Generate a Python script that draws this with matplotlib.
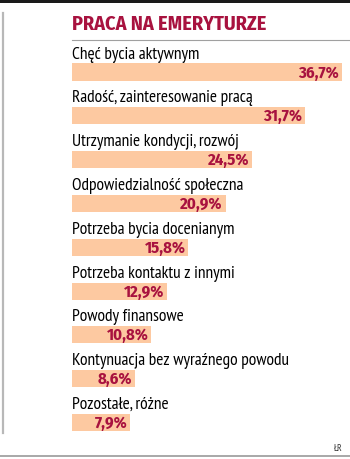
import matplotlib.pyplot as plt
from matplotlib.patches import Rectangle
from matplotlib.lines import Line2D

# odpowiedzi: dlaczego ludzie pracują na emeryturze (%)
labels = [
    "Chęć bycia aktywnym",
    "Radość, zainteresowanie pracą",
    "Utrzymanie kondycji, rozwój",
    "Odpowiedzialność społeczna",
    "Potrzeba bycia docenianym",
    "Potrzeba kontaktu z innymi",
    "Powody finansowe",
    "Kontynuacja bez wyraźnego powodu",
    "Pozostałe, różne",
]
values = [36.7, 31.7, 24.5, 20.9, 15.8, 12.9, 10.8, 8.6, 7.9]
value_text = ["36,7%", "31,7%", "24,5%", "20,9%", "15,8%", "12,9%", "10,8%", "8,6%", "7,9%"]

W, H = 350, 460
RED = "#a8123f"
PEACH = "#fdc9a1"
NARROW = ["PT Sans Narrow", "DejaVu Sans"]
BOLD = ["Fira Sans Condensed", "DejaVu Sans"]

fig = plt.figure(figsize=(W / 100, H / 100), dpi=100)

# ramka: czarny pasek u góry, szare linie z lewej i na dole
fig.add_artist(Rectangle((0, 1 - 4 / H), 1, 4 / H, transform=fig.transFigure,
                         color="#1a1a1a", lw=0))
fig.add_artist(Line2D([3 / W, 3 / W], [1 - 14 / H, 1 - 434 / H],
                      transform=fig.transFigure, color="#b8b8b8", lw=1.6))
fig.add_artist(Line2D([0, 1], [1 - 457 / H, 1 - 457 / H],
                      transform=fig.transFigure, color="#9a9a9a", lw=1.2))
fig.add_artist(Line2D([72 / W, 1], [1 - 41 / H, 1 - 41 / H],
                      transform=fig.transFigure, color="#a0a0a0", lw=0.8))

fig.text(72 / W, 1 - 30 / H, "PRACA NA EMERYTURZE", color=RED,
         fontsize=14.5, fontweight="bold", family=BOLD, va="baseline")
fig.text(342 / W, 1 - 451 / H, "ŁR", fontsize=7, family=NARROW,
         color="#333333", ha="right", va="baseline")

# oś z wykresem słupkowym
first, last = 73, 423.5
pitch = (last - first) / 8
top_px = first - 0.9 * pitch
bot_px = last + 0.6 * pitch
ax = fig.add_axes([72 / W, 1 - bot_px / H, (342 - 72) / W, (bot_px - top_px) / H])
ax.set_xlim(0, max(values))
ax.set_ylim(8.6, -0.9)
ax.axis("off")

ys = range(len(values))
ax.barh(ys, values, height=0.39, color=PEACH, lw=0)

for y, lab, v, t in zip(ys, labels, values, value_text):
    ax.text(0, y - 0.33, lab, fontsize=12.5, family=NARROW, color="#000000",
            va="baseline", ha="left")
    ax.annotate(t, (v, y), xytext=(-2, 0), textcoords="offset points",
                ha="right", va="center", fontsize=12, fontweight="bold",
                color=RED, family=BOLD)

fig.savefig("out.png", dpi=100)
